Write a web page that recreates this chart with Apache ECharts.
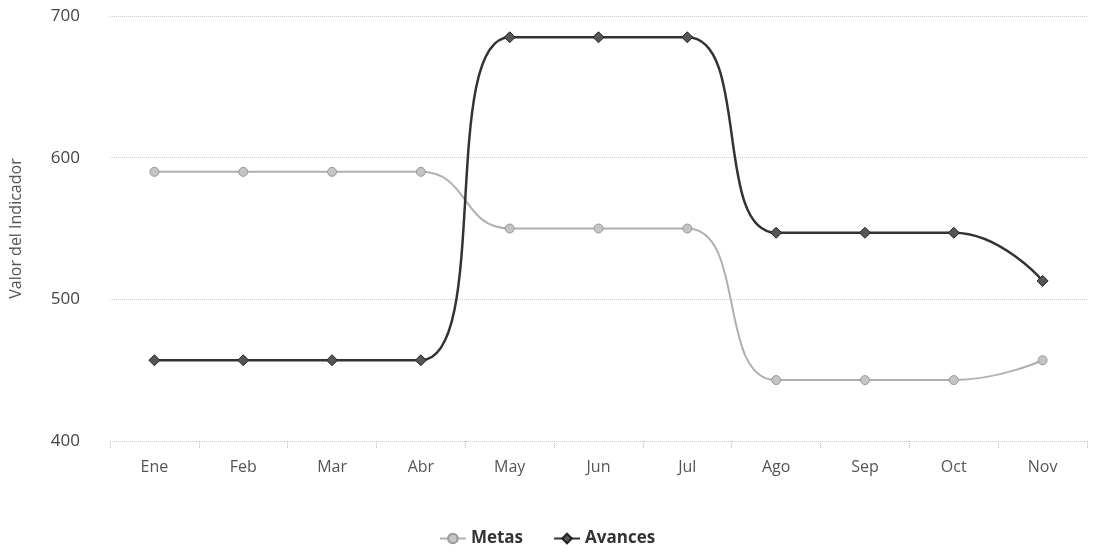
<!DOCTYPE html>
<html>
<head>
<meta charset="utf-8">
<script src="https://cdn.jsdelivr.net/npm/echarts@6/dist/echarts.min.js"></script>
<style>html,body{margin:0;padding:0;background:#fff}#c{width:1094px;height:554px}</style>
</head>
<body>
<div id="c"></div>
<script>
const categories = ['Ene','Feb','Mar','Abr','May','Jun','Jul','Ago','Sep','Oct','Nov'];
const metas = [590,590,590,590,550,550,550,443,443,443,457];
const avances = [457,457,457,457,685,685,685,547,547,547,513];
const yTicks = [400,500,600,700];

const chart = echarts.init(document.getElementById('c'));
chart.setOption({
  animation:false,
  textStyle:{fontFamily:'Open Sans'},
  grid:{left:108,right:7,top:16,bottom:113},
  legend:{
    bottom:2,left:'center',itemGap:30,itemWidth:26,itemHeight:12,
    textStyle:{fontSize:17,fontWeight:'bold',color:'#333',fontFamily:'Open Sans'},
    data:['Metas','Avances']
  },
  xAxis:{
    type:'category',data:categories,boundaryGap:true,
    axisLine:{show:false},
    axisTick:{show:true,length:8,lineStyle:{color:'#bbb',type:'dotted'}},
    axisLabel:{fontSize:16,color:'#555',margin:18}
  },
  yAxis:{
    type:'value',min:yTicks[0],max:yTicks[yTicks.length-1],interval:100,
    name:'Valor del Indicador',nameLocation:'middle',nameGap:86,
    nameTextStyle:{fontSize:16,color:'#555'},
    axisLabel:{fontSize:17,color:'#444',margin:30},
    splitLine:{lineStyle:{color:'#ccc',type:'dotted',width:1}}
  },
  series:[
    {name:'Metas',type:'line',smooth:true,data:metas,symbol:'circle',symbolSize:9,
     color:'#b0b0b0',lineStyle:{width:2,color:'#b0b0b0'},itemStyle:{color:'#c4c4c4',borderColor:'#999',borderWidth:1}},
    {name:'Avances',type:'line',smooth:true,data:avances,symbol:'diamond',symbolSize:11,
     color:'#333',lineStyle:{width:2.5,color:'#333'},itemStyle:{color:'#555',borderColor:'#222',borderWidth:1}}
  ]
});
</script>
</body>
</html>
